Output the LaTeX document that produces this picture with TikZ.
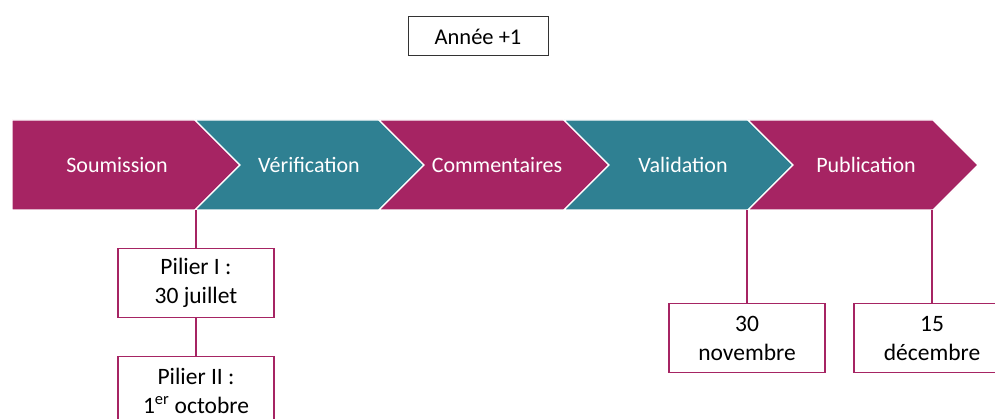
\documentclass[tikz,border=0pt]{standalone}
\usepackage{fontspec}
\setmainfont{Carlito}
\definecolor{plum}{RGB}{166,36,99}
\definecolor{petrol}{RGB}{47,128,146}

\begin{document}
\begin{tikzpicture}[x=1pt, y=-1pt,
    phase/.style={text=white, font=\fontsize{22}{26}\selectfont},
    datebox/.style={rectangle, draw=plum, line width=1.3pt, fill=white,
        minimum width=156pt, minimum height=69pt, inner sep=0pt,
        align=center, anchor=north, font=\fontsize{23.5}{29}\selectfont},
    yearbox/.style={rectangle, draw=black!80, line width=1pt,
        minimum width=140pt, minimum height=39pt, font=\fontsize{22.5}{26}\selectfont},
    link/.style={draw=plum, line width=1.8pt}
]
    \useasboundingbox (0,0) rectangle (995,419);

    % chevrons
    \fill[plum, draw=white, line width=1.2pt]
        (12,120) -- (195,120) -- (240,165) -- (195,210) -- (12,210) -- cycle;
    \foreach \l/\r/\c in {195/379/petrol, 379/564/plum, 564/748/petrol, 748/933/plum}
        \fill[\c, draw=white, line width=1.2pt]
            (\l,120) -- (\r,120) -- (\r+45,165) -- (\r,210) -- (\l,210) -- (\l+45,165) -- cycle;

    \node[phase] (soum) at (117,165) {Soumission};
    \node[phase] (veri) at (309,165) {Vérification};
    \node[phase] (comm) at (497,165) {Commentaires};
    \node[phase] (vali) at (683,165) {Validation};
    \node[phase] (publ) at (866,165) {Publication};

    \node[yearbox] (year) at (478,36.5) {Année +1};

    % dates
    \coordinate (s1) at (196,210);
    \coordinate (s4) at (747,210);
    \coordinate (s5) at (932,210);
    \node[datebox] (p1) at (196,248) {Pilier I :\\30 juillet};
    \node[datebox] (p2) at (196,356) {Pilier II :\\1\textsuperscript{er} octobre};
    \node[datebox] (nov) at (747,303) {30\\novembre};
    \node[datebox] (dec) at (932,303) {15\\décembre};
    \draw[link] (s1) -- (p1.north);
    \draw[link] (p1.south) -- (p2.north);
    \draw[link] (s4) -- (nov.north);
    \draw[link] (s5) -- (dec.north);
\end{tikzpicture}
\end{document}
